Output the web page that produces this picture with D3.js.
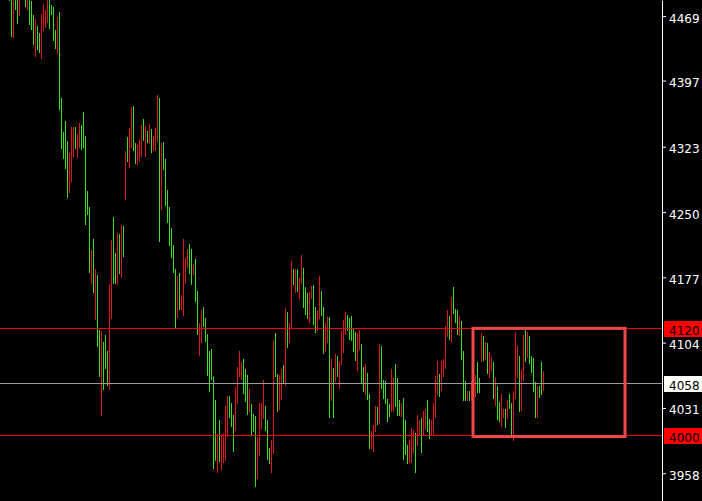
<!DOCTYPE html>
<html><head><meta charset="utf-8">
<script src="https://cdn.jsdelivr.net/npm/d3@7"></script>
<style>html,body{margin:0;padding:0;background:#000;overflow:hidden}</style>
</head><body>
<svg id="c" width="702" height="501"></svg>
<script>
// OHLC bars (high / low / direction), oldest first
const highs = [
4500,4500,4500,4500,4500,4500,4510,4512,4500,4500,
4500,4486,4470,4466,4458,4450,4471,4483,4476,4500,
4500,4481,4479,4453,4468,4474,4377,4340,4352,4329,
4316,4345,4345,4345,4337,4350,4347,4362,4335,4273,
4256,4208,4220,4186,4180,4118,4117,4105,4112,4095,
4169,4219,4245,4204,4227,4225,4235,4234,4318,4334,
4344,4367,4368,4327,4325,4331,4347,4354,4346,4341,
4348,4343,4335,4344,4381,4378,4327,4328,4309,4275,
4256,4232,4213,4186,4178,4182,4157,4220,4199,4209,
4214,4209,4192,4197,4162,4126,4140,4144,4131,4114,
4095,4097,4066,4040,4002,4018,4001,4002,4033,4044,
4044,4036,4023,4054,4077,4095,4082,4086,4075,4068,
4052,4035,4024,4022,3998,4037,4037,4062,4033,4018,
3986,3995,4107,4115,4069,4068,4074,4079,4143,4138,
4126,4195,4186,4186,4186,4176,4202,4187,4166,4159,
4161,4167,4168,4144,4139,4179,4162,4144,4126,4133,
4133,4086,4076,4091,4089,4084,4117,4129,4138,4135,
4131,4134,4120,4116,4115,4118,4103,4077,4080,4070,
4047,4005,4012,4033,4032,4103,4100,4062,4061,4041,
4035,4074,4066,4080,4065,4040,4037,4042,4017,3990,
3995,4009,4006,4003,4023,4018,4020,4028,4030,4040,
4019,4018,4036,4067,4084,4069,4083,4086,4123,4141,
4134,4155,4166,4142,4140,4134,4128,4095,4061,4050,
4050,4060,4070,4068,4082,4064,4115,4111,4105,4104,
4093,4088,4082,4066,4055,4038,4047,4030,4030,4040,
4047,4036,4050,4116,4100,4089,4073,4112,4118,4116,
4111,4089,4087,4060,4055,4055,4082,4072
];
const lows = [
4486,4446,4444,4476,4460,4469,4492,4494,4479,4476,
4459,4453,4437,4423,4431,4428,4421,4452,4456,4461,
4455,4470,4441,4432,4427,4364,4321,4309,4298,4266,
4271,4284,4312,4321,4310,4322,4319,4322,4235,4247,
4182,4170,4160,4129,4099,4066,4022,4051,4075,4056,
4051,4130,4170,4169,4168,4181,4176,4200,4263,4306,
4299,4322,4318,4304,4303,4306,4311,4329,4311,4327,
4326,4316,4318,4318,4328,4217,4252,4297,4257,4238,
4212,4199,4182,4120,4131,4140,4141,4134,4169,4187,
4181,4168,4180,4149,4113,4089,4104,4122,4105,4067,
4049,4062,3963,3972,3958,3971,3962,3970,3972,3998,
4020,4010,3982,4005,4035,4066,4062,4047,4038,4023,
4026,4000,4004,3943,3952,3977,4008,4019,4005,3973,
3968,3958,3980,4066,4027,4029,4040,4059,4056,4098,
4104,4120,4168,4159,4161,4153,4169,4143,4135,4130,
4126,4153,4124,4115,4117,4130,4134,4091,4093,4104,
4020,4039,4020,4060,4066,4052,4079,4092,4113,4117,
4107,4106,4093,4084,4072,4096,4059,4049,4045,4040,
3985,3985,3982,4004,4012,4013,4052,4041,4035,4015,
4021,4026,4026,4032,4022,4022,4021,3973,3978,3968,
3970,3970,3981,3958,3989,4001,3981,4001,4006,4004,
3996,4001,4000,4020,4045,4043,4050,4066,4075,4110,
4107,4105,4136,4126,4113,4111,4085,4039,4039,4039,
4039,4040,4045,4043,4048,4048,4082,4083,4085,4069,
4064,4072,4041,4033,4018,4015,4010,4020,4009,4019,
4030,4001,3994,4041,4064,4027,4028,4061,4082,4087,
4080,4070,4049,4020,4020,4042,4046,4050
];
const dirs = [
"u","u","d","u","u","d","u","d","u","d",
"u","u","u","d","u","u","d","d","d","d",
"u","u","u","u","d","u","u","u","u","u",
"d","d","d","u","d","d","u","u","u","u",
"u","d","u","d","u","u","d","u","u","u",
"d","d","u","u","d","u","d","u","d","u",
"d","d","u","u","d","d","d","u","d","u",
"d","u","d","d","d","u","d","u","u","u",
"u","u","u","u","d","u","d","d","d","d",
"u","u","d","u","u","d","d","u","u","u",
"u","u","u","u","d","u","d","d","d","d",
"u","u","u","d","d","d","d","u","u","u",
"d","u","u","u","d","d","d","d","u","u",
"u","d","d","u","u","d","d","u","d","u",
"d","d","u","d","u","d","d","u","u","u",
"d","d","u","u","d","d","u","u","d","d",
"u","d","u","d","u","d","d","d","d","u",
"u","u","u","u","d","d","u","u","d","u",
"u","d","d","d","u","d","u","u","u","u",
"u","d","d","u","u","u","d","u","u","u",
"d","d","d","u","d","d","u","d","d","u",
"u","d","d","d","d","u","d","d","d","d",
"u","d","u","u","u","d","u","u","u","d",
"u","d","u","d","u","u","d","u","d","u",
"d","d","u","d","u","u","d","d","u","d",
"u","u","d","d","d","u","d","d","u","d",
"u","u","u","u","d","u","u","d"
];
const tickLabels = [4469, 4397, 4323, 4250, 4177, 4104, 4031, 3958];
const levelPrices = [4120, 4058, 4000];
const levelKinds = ["red", "white", "red"];
const boxBars = [232, 308];      // bar index span of the rectangle
const boxPrices = [4120, 3999];  // price span of the rectangle

const W = 702, H = 501, plotW = 662;
const svg = d3.select("#c");
svg.append("rect").attr("width", W).attr("height", H).attr("fill", "#000");

const x = d3.scaleLinear().domain([0, highs.length - 1]).range([9, 9 + 2 * (highs.length - 1)]);
const y = d3.scaleLinear().domain([3927, 4487]).range([H, 0]);

svg.append("clipPath").attr("id", "plot").append("rect").attr("width", plotW).attr("height", H);
const plot = svg.append("g").attr("clip-path", "url(#plot)");

const colors = { u: "#3ade22", d: "#e0161a" };
plot.append("g").attr("shape-rendering", "crispEdges")
  .selectAll("rect").data(highs).join("rect")
  .attr("x", (d, i) => x(i))
  .attr("width", 1)
  .attr("y", d => y(d))
  .attr("height", (d, i) => Math.max(1, y(lows[i]) - y(d)))
  .attr("fill", (d, i) => colors[dirs[i]]);

// horizontal levels
const levelColor = { red: "#f00000", white: "#9a9aa0" };
plot.append("g").selectAll("line").data(levelPrices).join("line")
  .attr("x1", 0).attr("x2", plotW)
  .attr("y1", d => Math.floor(y(d)) + 0.5).attr("y2", d => Math.floor(y(d)) + 0.5)
  .attr("stroke", (d, i) => levelColor[levelKinds[i]]).attr("stroke-width", 1);

// rectangle
plot.append("rect")
  .attr("x", x(boxBars[0])).attr("y", y(boxPrices[0]))
  .attr("width", x(boxBars[1]) - x(boxBars[0]))
  .attr("height", y(boxPrices[1]) - y(boxPrices[0]))
  .attr("fill", "none").attr("stroke", "#f04848").attr("stroke-width", 3);

// right axis
const ax = svg.append("g").attr("transform", `translate(${plotW},0)`)
  .call(d3.axisRight(y).tickValues(tickLabels).tickSize(4).tickSizeOuter(0).tickPadding(3).tickFormat(d3.format("d")));
ax.select(".domain").attr("stroke", "#fff");
ax.selectAll(".tick line").attr("stroke", "#fff");
ax.selectAll(".tick text").attr("fill", "#fff").attr("dy", "0.5em")
  .style("font-family", "'DejaVu Sans', sans-serif").style("font-size", "12px");

// level labels
const lab = svg.append("g").selectAll("g").data(levelPrices).join("g")
  .attr("transform", d => `translate(${plotW + 2},${Math.floor(y(d))})`);
lab.append("rect").attr("x", 0).attr("y", -7).attr("width", W - plotW - 2).attr("height", 16)
  .attr("fill", (d, i) => levelKinds[i] === "red" ? "#ff0000" : "#ffffff");
lab.append("text").attr("x", 5).attr("y", 7).attr("fill", "#000")
  .style("font-family", "'DejaVu Sans', sans-serif").style("font-size", "12px")
  .text(d => d);
</script>
</body></html>
